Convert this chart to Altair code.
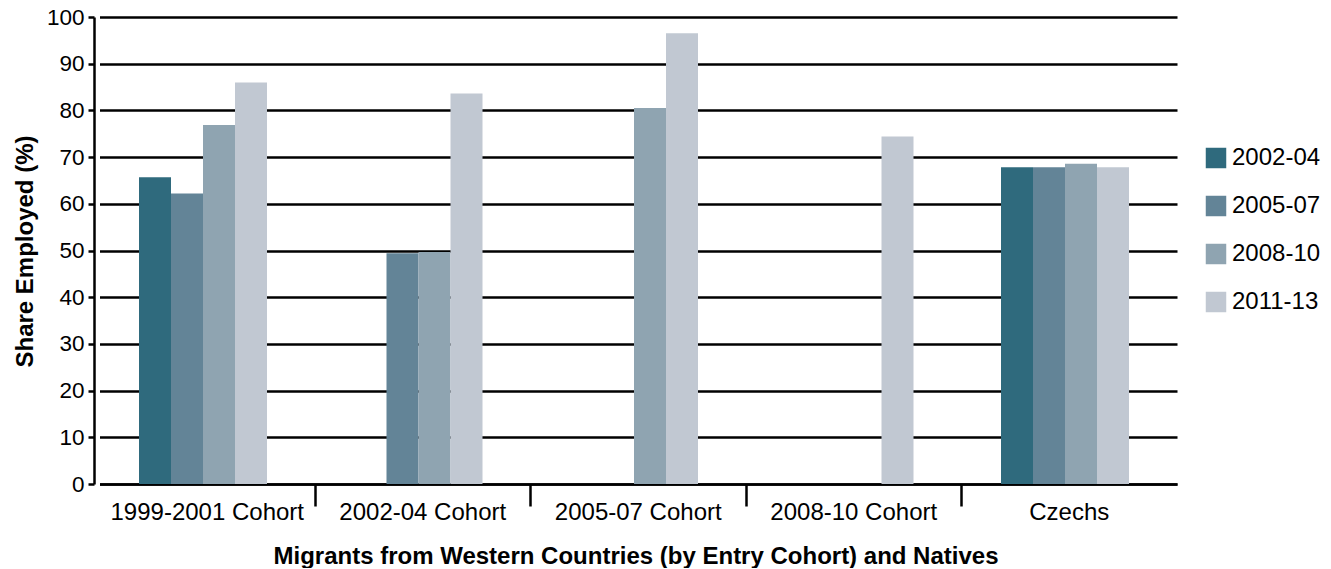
import altair as alt
import pandas as pd

categories = ["1999-2001 Cohort", "2002-04 Cohort", "2005-07 Cohort", "2008-10 Cohort", "Czechs"]
series = ["2002-04", "2005-07", "2008-10", "2011-13"]
colors = ["#2f6a7d", "#638497", "#8fa4b1", "#c1c8d2"]

s_2002_04 = [65.7, None, None, None, 67.8]
s_2005_07 = [62.2, 49.4, None, None, 67.8]
s_2008_10 = [76.9, 49.7, 80.5, None, 68.6]
s_2011_13 = [86.0, 83.6, 96.5, 74.4, 67.8]

rows = []
for name, vals in zip(series, [s_2002_04, s_2005_07, s_2008_10, s_2011_13]):
    for cat, v in zip(categories, vals):
        if v is not None:
            rows.append({"cohort": cat, "period": name, "share": v})
df = pd.DataFrame(rows)

FONT = "Liberation Sans"
FS = 24
FSY = 22.5

x_scale = alt.Scale(domain=categories, paddingInner=0, paddingOuter=0, range=[5.5, 1083])
off_scale = alt.Scale(domain=series, paddingInner=0, paddingOuter=0, range=[39.5, 167.5])
y_scale = alt.Scale(domain=[0, 100], nice=False)

bars = alt.Chart(df).mark_bar().encode(
    x=alt.X("cohort:N", scale=x_scale, sort=categories,
            axis=alt.Axis(title="Migrants from Western Countries (by Entry Cohort) and Natives",
                          titleFont=FONT, titleFontSize=FS, titleFontWeight="bold", titleColor="black",
                          titleX=541.5, titleY=79, titleBaseline="alphabetic", titleAlign="center",
                          labelFont=FONT, labelFontSize=FS, labelColor="black", labelAngle=0,
                          labelBaseline="alphabetic", labelPadding=35, labelLimit=0,
                          ticks=False, domain=True, domainColor="black", domainWidth=2.5,
                          grid=False)),
    xOffset=alt.XOffset("period:N", scale=off_scale, sort=series),
    y=alt.Y("share:Q", scale=y_scale,
            axis=alt.Axis(title="Share Employed (%)", values=list(range(0, 101, 10)),
                          titleFont=FONT, titleFontSize=FS, titleFontWeight="bold", titleColor="black",
                          titleAngle=270, titleX=-62, titleY=234, titleBaseline="alphabetic",
                          titleAlign="center",
                          labelFont=FONT, labelFontSize=FSY, labelColor="black", labelPadding=4,
                          tickSize=6, tickColor="black", tickWidth=2.5,
                          domain=True, domainColor="black", domainWidth=2.5,
                          grid=True, gridColor="black", gridWidth=2.7)),
    color=alt.Color("period:N", scale=alt.Scale(domain=series, range=colors),
                    legend=alt.Legend(title=None, orient="none", legendX=1110, legendY=129,
                                      symbolType="square", symbolSize=420, symbolStrokeWidth=0,
                                      symbolOpacity=1,
                                      labelFont=FONT, labelFontSize=FS, labelColor="black",
                                      labelOffset=4, rowPadding=24, padding=0)),
)

ticks_layer = alt.Chart(df).mark_bar(opacity=0).encode(
    x=alt.X("cohort:N", scale=x_scale, sort=categories,
            axis=alt.Axis(orient="bottom", title=None, values=categories[1:], bandPosition=0,
                          labels=False, domain=False, grid=False,
                          ticks=True, tickSize=22, tickColor="black", tickWidth=2.5)),
    xOffset=alt.XOffset("period:N", scale=off_scale, sort=series),
    y=alt.Y("share:Q", scale=y_scale),
)

chart = alt.layer(bars, ticks_layer).resolve_axis(x="independent").properties(
    width=1083, height=467,
    autosize=alt.AutoSizeParams(type="none"),
    padding={"left": 86, "top": 9, "right": 146, "bottom": 84},
).configure_view(stroke=None)

chart.save("out.html", embed_options={"renderer": "svg", "actions": False})
